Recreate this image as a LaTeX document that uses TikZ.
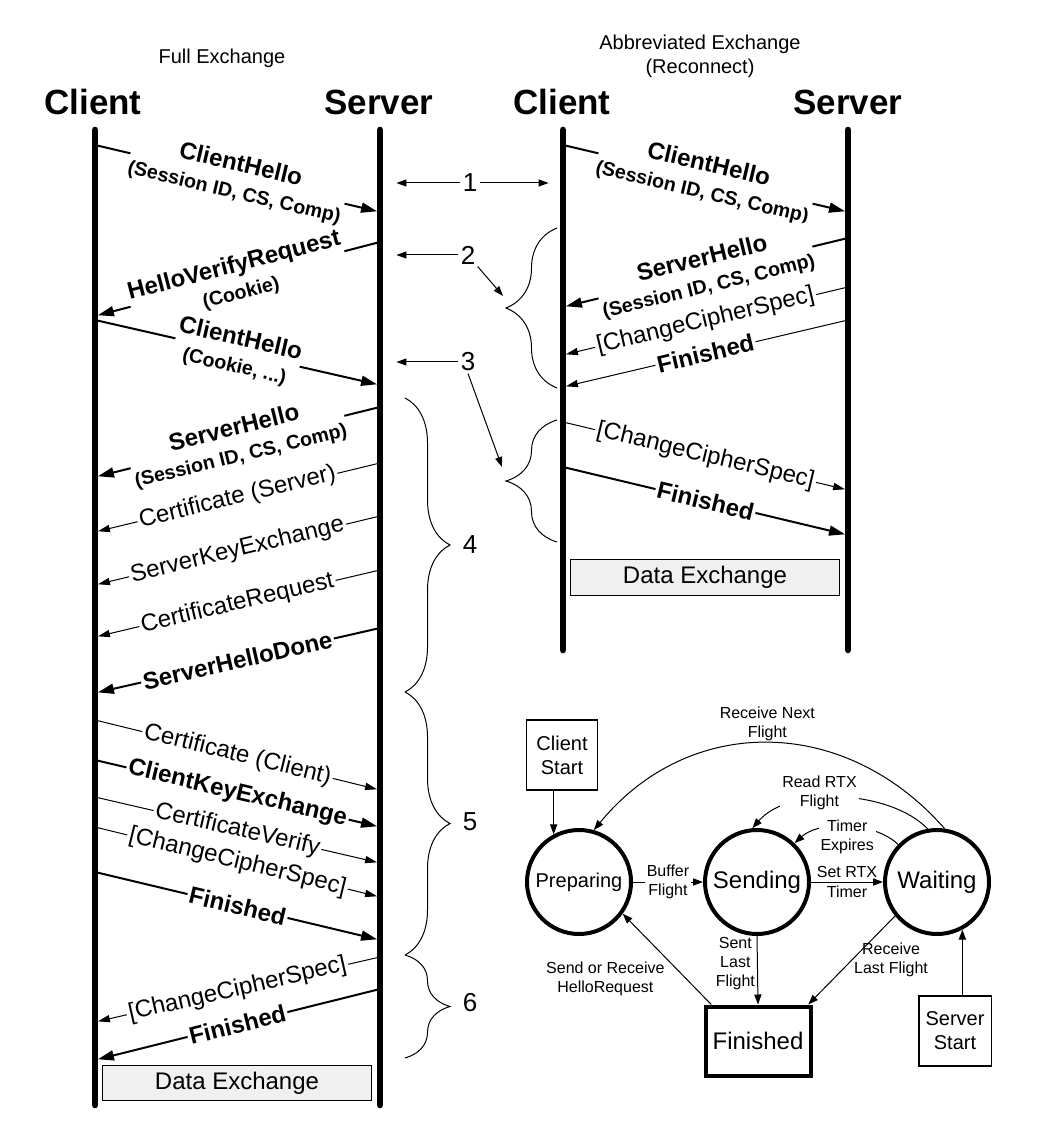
\documentclass[tikz,border=0pt]{standalone}
\usepackage{fontspec}
\setmainfont{Liberation Sans}
\usetikzlibrary{arrows.meta, positioning, decorations.pathreplacing}

\newcommand{\hdfont}{\fontsize{17.5}{20}\selectfont\bfseries}
\newcommand{\capfont}{\fontsize{10}{12}\selectfont}
\newcommand{\msgfont}{\fontsize{12}{14}\selectfont}
\newcommand{\subfont}{\fontsize{9.8}{13.5}\selectfont\bfseries}
\newcommand{\numfont}{\fontsize{13}{15}\selectfont}
\newcommand{\smfont}{\fontsize{8}{9.6}\selectfont}
\newcommand{\stfont}{\fontsize{10}{12}\selectfont}
\newcommand{\bigstfont}{\fontsize{12}{14}\selectfont}

\begin{document}
\begin{tikzpicture}[x=0.5pt, y=-0.5pt,
  life/.style={line width=3.3pt, line cap=round},
  msgb/.style={line width=1pt, -{Triangle[length=8pt, width=5pt]}, shorten >=1.5pt},
  msgt/.style={line width=0.5pt, -{Triangle[length=6pt, width=3.6pt]}, shorten >=1.5pt},
  lbl/.style={sloped, midway, fill=white, inner sep=1pt, align=center, font=\msgfont},
  lblb/.style={lbl, font=\msgfont\bfseries},
  lbl2/.style={lbl, font=\subfont, inner sep=0.5pt},
  brc/.style={decorate, decoration={brace, amplitude=#1}, line width=0.5pt},
  annarr/.style={line width=0.5pt, -{Triangle[length=5pt, width=3.5pt]}},
  num/.style={font=\numfont, inner sep=1pt},
  dxbox/.style={draw, line width=0.5pt, fill=gray!12, font=\msgfont, minimum width=134.5pt},
  state/.style={circle, draw, line width=2pt, minimum size=52pt, inner sep=0pt},
  startbox/.style={draw, line width=0.6pt, minimum width=35.5pt, minimum height=35pt, align=center, font=\stfont},
  smarr/.style={line width=0.5pt, -{Triangle[length=5pt, width=3.6pt]}},
  smlbl/.style={font=\smfont, align=center, inner sep=1pt}]
\useasboundingbox (0,0) rectangle (1038,1127);

% titles and headers
\node[font=\capfont] (fullcap) at (222,58) {Full Exchange};
\node[font=\capfont, align=center] (abbcap) at (700,56) {Abbreviated Exchange\\(Reconnect)};
\node[font=\hdfont] (lch) at (93,102) {Client};
\node[font=\hdfont] (lsh) at (379,102) {Server};
\node[font=\hdfont] (rch) at (562,102) {Client};
\node[font=\hdfont] (rsh) at (848,102) {Server};

% lifelines
\coordinate (lc) at (95,130);
\coordinate (ls) at (380,130);
\coordinate (rc) at (563,130);
\coordinate (rs) at (848,130);
\draw[life] (lc) -- (lc |- 0,1105);
\draw[life] (ls) -- (ls |- 0,1105);
\draw[life] (rc) -- (rc |- 0,650);
\draw[life] (rs) -- (rs |- 0,650);

% full exchange
\draw[msgb] (lc |- 0,145) -- (ls |- 0,212) node[lbl2] {{\msgfont\bfseries ClientHello}\\(Session ID, CS, Comp)};
\draw[msgb] (ls |- 0,242) -- (lc |- 0,316) node[lbl2] {{\msgfont\bfseries HelloVerifyRequest}\\(Cookie)};
\draw[msgb] (lc |- 0,320) -- (ls |- 0,385) node[lbl2] {{\msgfont\bfseries ClientHello}\\(Cookie, ...)};
\draw[msgb] (ls |- 0,407) -- (lc |- 0,477) node[lbl2] {{\msgfont\bfseries ServerHello}\\(Session ID, CS, Comp)};
\draw[msgt] (ls |- 0,463) -- (lc |- 0,532) node[lbl] {Certificate (Server)};
\draw[msgt] (ls |- 0,516) -- (lc |- 0,585) node[lbl] {ServerKeyExchange};
\draw[msgt] (ls |- 0,570) -- (lc |- 0,637) node[lbl] {CertificateRequest};
\draw[msgb] (ls |- 0,628) -- (lc |- 0,693) node[lblb] {ServerHelloDone};
\draw[msgt] (lc |- 0,720) -- (ls |- 0,790) node[lbl] {Certificate (Client)};
\draw[msgb] (lc |- 0,760) -- (ls |- 0,827) node[lblb] {ClientKeyExchange};
\draw[msgt] (lc |- 0,797) -- (ls |- 0,863) node[lbl] {CertificateVerify};
\draw[msgt] (lc |- 0,827) -- (ls |- 0,897) node[lbl] {[ChangeCipherSpec]};
\draw[msgb] (lc |- 0,872) -- (ls |- 0,940) node[lblb] {Finished};
\draw[msgt] (ls |- 0,957) -- (lc |- 0,1022) node[lbl] {[ChangeCipherSpec]};
\draw[msgb] (ls |- 0,989) -- (lc |- 0,1060) node[lblb] {Finished};
\node[dxbox, minimum height=14.5pt] (dxl) at (237,1083) {Data Exchange};

% abbreviated exchange
\draw[msgb] (rc |- 0,145) -- (rs |- 0,212) node[lbl2] {{\msgfont\bfseries ClientHello}\\(Session ID, CS, Comp)};
\draw[msgb] (rs |- 0,238) -- (rc |- 0,307) node[lbl2] {{\msgfont\bfseries ServerHello}\\(Session ID, CS, Comp)};
\draw[msgt] (rs |- 0,287) -- (rc |- 0,355) node[lbl] {[ChangeCipherSpec]};
\draw[msgt] (rs |- 0,320) -- (rc |- 0,387) node[lblb] {Finished};
\draw[msgt] (rc |- 0,422) -- (rs |- 0,490) node[lbl] {[ChangeCipherSpec]};
\draw[msgb] (rc |- 0,467) -- (rs |- 0,535) node[lblb] {Finished};
\node[dxbox, minimum height=18pt] (dxr) at (705,577) {Data Exchange};

% flight braces
\draw[brc=25.5pt] (557,388) -- (557,228);
\draw[brc=25.5pt] (557,542) -- (557,420);
\draw[brc=22.5pt] (405,398) -- (405,692);
\draw[brc=22.5pt] (405,692) -- (405,955);
\draw[brc=22.5pt] (405,955) -- (405,1058);
\coordinate (b2) at (503,296);
\coordinate (b3) at (502,467);

% flight numbers
\node[num] (n1) at (470,183) {1};
\node[num] (n2) at (468,255) {2};
\node[num] (n3) at (468,362) {3};
\node[num] (n4) at (470,545) {4};
\node[num] (n5) at (470,822) {5};
\node[num] (n6) at (470,1003) {6};
\draw[annarr] (n1.west) -- ++(-64,0);
\draw[annarr] (n1.east) -- ++(69,0);
\draw[annarr] (n2.west) -- ++(-62,0);
\draw[annarr] (n2.south east) -- (b2);
\draw[annarr] (n3.west) -- ++(-62,0);
\draw[annarr] (n3.south) -- (b3);

% state machine
\node[state, font=\stfont] (prep) at (579,882) {Preparing};
\node[state, font=\bigstfont] (send) at (757,882) {Sending};
\node[state, font=\bigstfont] (wait) at (937,882) {Waiting};
\node[draw, line width=2pt, minimum width=52.5pt, minimum height=34.5pt, font=\bigstfont] (fin) at (758,1041) {Finished};
\node[startbox] (cstart) at (562,755) {Client\\Start};
\node[startbox] (sstart) at (955,1031) {Server\\Start};

\draw[smarr] (cstart.south -| prep.118) -- (prep.118);
\draw[smarr] (sstart.north -| wait.-62) -- (wait.-62);
\draw[smarr] (prep.east) -- node[smlbl, fill=white] {Buffer\\Flight} (send.west);
\draw[smarr] (send.east) -- node[smlbl] {Set RTX\\Timer} (wait.west);
\draw[smarr] (send.south) -- node[smlbl, left, pos=0.4] {Sent\\Last\\Flight} (fin.north);
\draw[smarr] (wait.219) -- node[smlbl, right, pos=0.5] {Receive\\Last Flight} (fin.36);
\draw[smarr] (fin.142) -- node[smlbl, below left, pos=0.5] {Send or Receive\\HelloRequest} (prep.-36);
\draw[smarr] (wait.82) .. controls +(-100,-114) and +(95,-116) .. node[smlbl, above, pos=0.5] {Receive Next\\Flight} (prep.74);
\draw[smarr] (wait.100) .. controls (890,790) and (790,785) .. node[smlbl, fill=white, pos=0.6, yshift=3pt] {Read RTX\\Flight} (send.95);
\draw[smarr] (wait.136) .. controls (875,822) and (820,820) .. node[smlbl, fill=white, pos=0.5, yshift=-5pt] {Timer\\Expires} (send.46);
\end{tikzpicture}
\end{document}
